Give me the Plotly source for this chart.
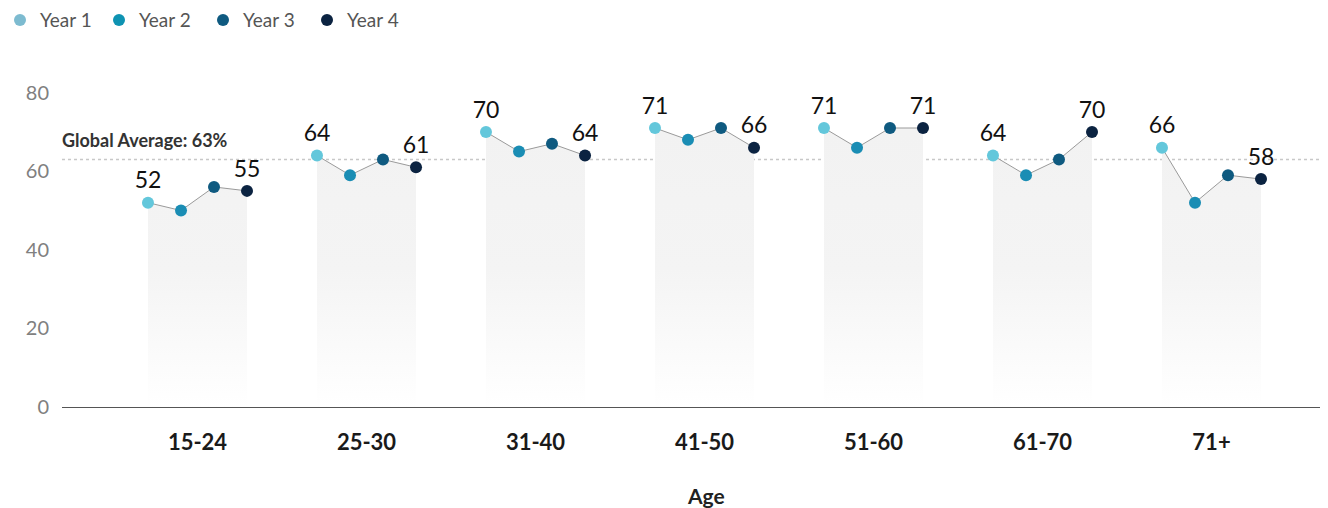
import plotly.graph_objects as go

categories = ["15-24", "25-30", "31-40", "41-50", "51-60", "61-70", "71+"]
years = ["Year 1", "Year 2", "Year 3", "Year 4"]
year1 = [52, 64, 70, 71, 71, 64, 66]
year2 = [50, 59, 65, 68, 66, 59, 52]
year3 = [56, 63, 67, 71, 71, 63, 59]
year4 = [55, 61, 64, 66, 71, 70, 58]
global_average = 63
y_ticks = [0, 20, 40, 60, 80]

series = [year1, year2, year3, year4]
point_colors = ["#63C7DB", "#1A8DB4", "#0F5A80", "#0B2341"]
legend_colors = ["#7DBBD0", "#0E93B2", "#0F5A80", "#0B2341"]
offsets = [-0.293, -0.0976, 0.0976, 0.293]
FONT = "Lato"

W, H = 1320, 500          # page has an 8px body margin
L, R, T, B = 54, 0, 65, 101
pw = W - L - R
ph = H - T - B

# legend layout (page pixels): marker centres and row centre
legend_marker_x = [20, 119, 223, 327]
legend_row_y = 20


def px_to_paper_x(px):
    return (px - 8 - L) / pw


def px_to_paper_y(py):
    return (H - B - (py - 8)) / ph


fig = go.Figure()

# grey gradient areas + connecting line per age group
for i, cat in enumerate(categories):
    xs = [i + o for o in offsets]
    ys = [s[i] for s in series]
    fig.add_trace(go.Scatter(
        x=xs, y=ys, mode="lines",
        line=dict(color="#9a9a9a", width=1),
        fill="tozeroy",
        fillgradient=dict(type="vertical", start=0, stop=70,
                          colorscale=[[0, "rgba(255,255,255,1)"],
                                      [0.5, "rgba(244,244,244,1)"],
                                      [1, "rgba(242,242,242,1)"]]),
        showlegend=False, hoverinfo="skip"))

# markers per year
for k, (name, vals) in enumerate(zip(years, series)):
    xs = [i + offsets[k] for i in range(len(categories))]
    show_text = k in (0, 3)
    fig.add_trace(go.Scatter(
        x=xs, y=vals, mode="markers+text" if show_text else "markers",
        marker=dict(color=point_colors[k], size=12),
        text=[str(v) for v in vals] if show_text else None,
        textposition="top center",
        textfont=dict(family=FONT, size=23, color="#111111"),
        name=name, showlegend=False))

# legend (drawn as shapes + text)
ly = px_to_paper_y(legend_row_y)
for k, name in enumerate(years):
    lx = px_to_paper_x(legend_marker_x[k])
    fig.add_shape(type="circle", xref="paper", yref="paper",
                  xsizemode="pixel", ysizemode="pixel", xanchor=lx, yanchor=ly,
                  x0=-6, x1=6, y0=-6, y1=6,
                  fillcolor=legend_colors[k], line=dict(width=0))
    fig.add_annotation(xref="paper", yref="paper", x=lx, y=ly, xshift=18,
                       xanchor="left", yanchor="middle", showarrow=False, text=name,
                       font=dict(family=FONT, size=19, color="#555555"))

fig.add_shape(type="line", xref="paper", x0=0, x1=1, y0=global_average, y1=global_average,
              line=dict(color="#c8c8c8", width=1.5, dash="dot"), layer="below")
fig.add_annotation(xref="paper", x=0, y=global_average, yanchor="bottom", xanchor="left",
                   yshift=6, text="<b>Global Average: %d%%</b>" % global_average, showarrow=False,
                   xshift=-2,
                   font=dict(family=FONT, size=18, color="#333333"))
fig.add_annotation(xref="paper", yref="paper", x=px_to_paper_x(706), y=px_to_paper_y(495),
                   xanchor="center", yanchor="middle", text="<b>Age</b>", showarrow=False,
                   font=dict(family=FONT, size=21, color="#222222"))

fig.update_layout(
    width=W, height=H,
    margin=dict(l=L, r=R, t=T, b=B),
    paper_bgcolor="white", plot_bgcolor="white",
    font=dict(family=FONT),
    showlegend=False,
    xaxis=dict(range=[(62 - 197.5) / 169, (1328 - 197.5) / 169],
               tickvals=list(range(len(categories))), ticktext=categories,
               tickfont=dict(family=FONT, size=22, color="#1a1a1a", weight="bold"),
               showgrid=False, zeroline=False, showline=True, linecolor="#555555", linewidth=1,
               ticks="", ticklabelstandoff=16),
    yaxis=dict(range=[0, 85], tickvals=y_ticks, showgrid=False, zeroline=False, showline=False,
               tickfont=dict(family=FONT, size=20, color="#808080"), ticks="",
               ticklabelstandoff=12),
)

fig.write_html("out.html")
